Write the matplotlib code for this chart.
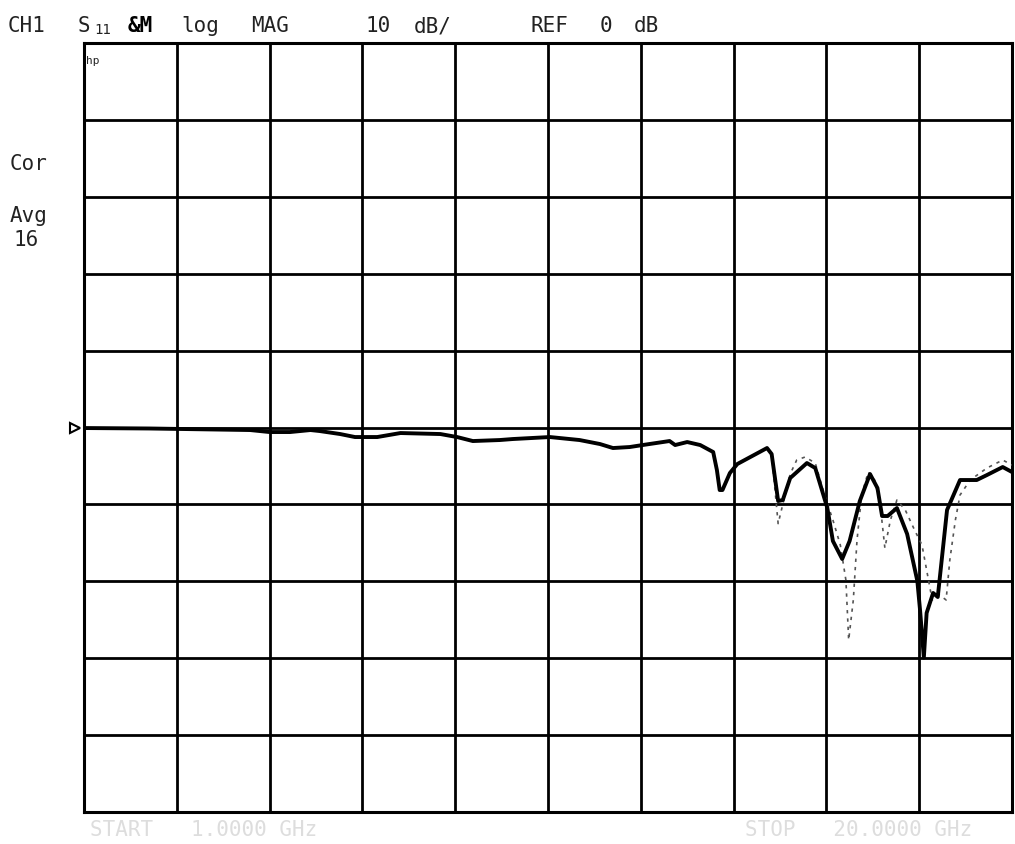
import matplotlib
matplotlib.use("Agg")
import matplotlib.pyplot as plt

# screen divisions along the sweep (0..10) and trace level in dB
main_x = [0.00, 0.71, 1.79, 2.00, 2.22, 2.44, 2.54, 2.76, 2.92, 3.16, 3.41, 3.84,
          4.02, 4.19, 4.48, 4.62, 5.02, 5.34, 5.56, 5.70, 5.88, 6.02, 6.31, 6.37,
          6.50, 6.64, 6.78, 6.82, 6.85, 6.88, 6.96, 7.04, 7.36, 7.41, 7.48, 7.53,
          7.61, 7.79, 7.88, 8.01, 8.07, 8.17, 8.25, 8.36, 8.47, 8.55, 8.60, 8.66,
          8.76, 8.87, 8.98, 9.01, 9.05, 9.08, 9.15, 9.20, 9.30, 9.44, 9.62, 9.73,
          9.90, 10.00]
main_db = [-0.07, -0.13, -0.33, -0.59, -0.59, -0.33, -0.46, -0.85, -1.24, -1.24, -0.72, -0.85,
           -1.24, -1.76, -1.63, -1.50, -1.24, -1.63, -2.15, -2.67, -2.54, -2.28, -1.76, -2.28,
           -1.89, -2.28, -3.19, -5.53, -8.13, -8.13, -5.92, -4.75, -2.67, -3.45, -9.56, -9.43,
           -6.57, -4.62, -5.27, -10.47, -14.76, -17.10, -14.76, -9.56, -6.05, -7.87, -11.51, -11.51,
           -10.47, -13.85, -19.96, -23.86, -29.91, -24.12, -21.52, -22.04, -10.73, -6.83, -6.83, -6.18,
           -5.14, -5.79]

# memory trace (only where it separates from the data trace)
mem_x = [7.41, 7.48, 7.53, 7.61, 7.68, 7.77, 7.88, 7.98, 8.07, 8.15, 8.21, 8.24,
         8.29, 8.33, 8.38, 8.45, 8.52, 8.58, 8.63, 8.69, 8.76, 8.85, 8.95, 9.03,
         9.08, 9.14, 9.22, 9.29, 9.33, 9.39, 9.44, 9.55, 9.73, 9.90, 10.00]
mem_db = [-3.45, -12.5, -10.0, -6.05, -4.23, -3.84, -4.62, -8.78, -12.03, -15.28, -19.83, -27.63,
          -22.43, -14.63, -8.78, -5.79, -6.83, -10.08, -15.67, -12.03, -9.43, -10.73, -13.33, -15.28,
          -18.53, -22.43, -21.78, -22.43, -17.23, -12.03, -8.78, -6.83, -5.27, -4.23, -4.88]

W, H = 1015, 844
fig = plt.figure(figsize=(W / 100, H / 100), dpi=100)
ax = fig.add_axes([84 / W, (H - 812) / H, (1012 - 84) / W, (812 - 43) / H])

ax.set_xlim(0, 10)
ax.set_ylim(-50, 50)
ax.set_xticks(range(11))
ax.set_yticks(range(-50, 51, 10))
ax.tick_params(length=0, labelbottom=False, labelleft=False)
ax.grid(True, color="black", lw=2.0)
for s in ax.spines.values():
    s.set_linewidth(2.2)

ax.plot(mem_x, mem_db, ls=(0, (2, 3)), color="#555555", lw=1.2, zorder=3)
ax.plot(main_x, main_db, color="black", lw=2.8, zorder=4)
# reference position marker
ax.plot([-0.1], [0], marker=">", ms=7, mfc="white", mec="black", mew=1.5,
        clip_on=False, zorder=5)

mono = "DejaVu Sans Mono"


def put(x, y, s, size=15, color="#222222", **kw):
    fig.text(x / W, 1 - y / H, s, fontsize=size, family=mono, color=color,
             va="center", ha="left", **kw)


# header line
put(8, 26, "CH1")
put(78, 26, "S")
put(94, 30, "11", size=10)
put(128, 26, "&M", weight="bold", color="black")
put(181, 26, "log")
put(251, 26, "MAG")
put(366, 26, "10")
put(414, 26, "dB/")
put(530, 26, "REF")
put(600, 26, "0")
put(634, 26, "dB")

# left annotations
put(10, 164, "Cor")
put(10, 216, "Avg")
put(14, 240, "16")
put(86, 61, "hp", size=8)

# start / stop labels (faded on the original)
put(90, 830, "START   1.0000 GHz", color="#dddddd")
put(745, 830, "STOP   20.0000 GHz", color="#dddddd")

fig.savefig("out.png", dpi=100)
